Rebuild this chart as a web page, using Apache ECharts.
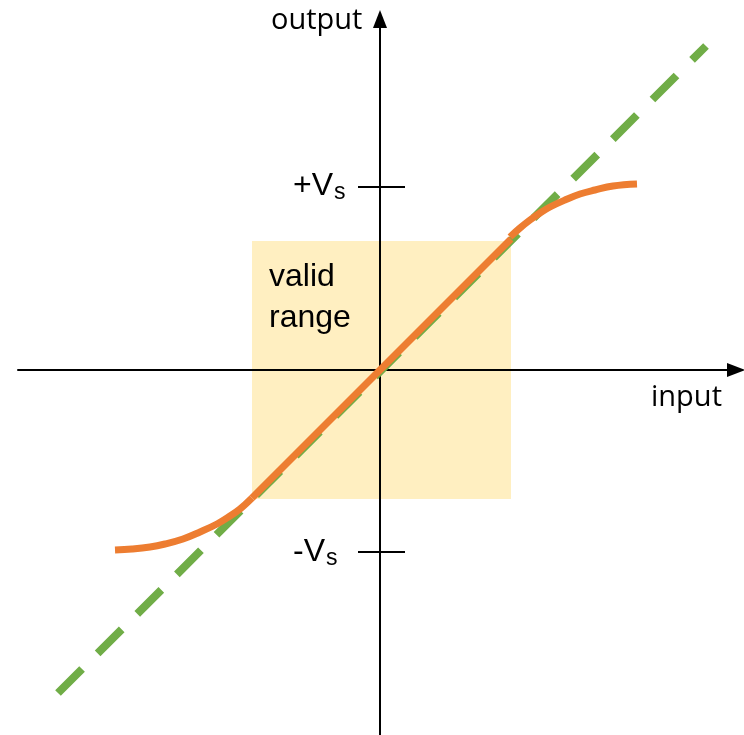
<!DOCTYPE html>
<html>
<head>
<meta charset="utf-8">
<script src="https://cdn.jsdelivr.net/npm/echarts@6/dist/echarts.min.js"></script>
<style>
  html, body { margin: 0; padding: 0; background: #fff; }
  #chart { width: 744px; height: 735px; }
</style>
</head>
<body>
<div id="chart"></div>
<script>
// data in pixel-like units, origin at axis crossing
const idealLine = [[-322, -323], [326, 324]];
const linearPart = [[-128, -128], [131, 131]];
const upperCurve = [[130, 133], [140, 142], [150, 150], [160, 157], [170, 163], [185, 170],
  [200, 176], [215, 180], [233, 184], [257, 186]];
const lowerCurve = [[-128, -128], [-140, -139], [-150, -146], [-163, -154], [-180, -162],
  [-197, -169], [-215, -174], [-230, -177], [-248, -179], [-265, -180]];
const validRange = { x: [-128, 131], y: [-129, 129] };
const vsLevels = [183, -182];
const tickHalfWidth = [-22, 25];

const chart = echarts.init(document.getElementById('chart'));

const sans = '"Liberation Sans", Arial, sans-serif';
const axisFont = '"Open Sans", sans-serif';
const orange = '#ED7D31';
const green = '#70AD47';

const tickSeries = vsLevels.map(v => ({
  type: 'line',
  z: 3,
  data: [[tickHalfWidth[0], v], [tickHalfWidth[1], v]],
  symbol: 'none',
  silent: true,
  lineStyle: { color: '#000', width: 2 }
}));

const vsRich = {
  m: { font: '32px ' + sans, fill: '#000' },
  s: { font: '23px ' + sans, fill: '#000', padding: [14, 0, 0, 1] }
};

const option = {
  animation: false,
  grid: { left: 18, right: 8, top: 19, bottom: 0 },
  xAxis: {
    type: 'value',
    min: -362,
    max: 356,
    z: 1,
    splitLine: { show: false },
    axisTick: { show: false },
    axisLabel: { show: false },
    axisLine: {
      onZero: true,
      symbol: ['none', 'triangle'],
      symbolSize: [14, 18],
      lineStyle: { color: '#000', width: 2 }
    }
  },
  yAxis: {
    type: 'value',
    min: -365,
    max: 351,
    z: 1,
    splitLine: { show: false },
    axisTick: { show: false },
    axisLabel: { show: false },
    axisLine: {
      onZero: true,
      symbol: ['none', 'triangle'],
      symbolSize: [14, 18],
      lineStyle: { color: '#000', width: 2 }
    }
  },
  series: [
    {
      type: 'line',
      z: 0,
      data: [],
      markArea: {
        silent: true,
        itemStyle: { color: '#FFEFC1' },
        data: [[
          { coord: [validRange.x[0], validRange.y[0]] },
          { coord: [validRange.x[1], validRange.y[1]] }
        ]]
      }
    },
    ...tickSeries,
    {
      type: 'line',
      z: 4,
      data: idealLine,
      symbol: 'none',
      lineStyle: { color: green, width: 8, type: [34, 22], cap: 'butt' }
    },
    {
      type: 'line',
      z: 5,
      data: linearPart,
      symbol: 'none',
      lineStyle: { color: orange, width: 7, cap: 'butt' }
    },
    {
      type: 'line',
      z: 5,
      data: upperCurve,
      symbol: 'none',
      smooth: 0.4,
      lineStyle: { color: orange, width: 7, cap: 'butt' }
    },
    {
      type: 'line',
      z: 5,
      data: lowerCurve,
      symbol: 'none',
      smooth: 0.4,
      lineStyle: { color: orange, width: 7, cap: 'butt' }
    }
  ],
  graphic: [
    { type: 'text', z: 100, left: 271, top: 6, style: { text: 'output', font: '29px ' + axisFont, fill: '#000' } },
    { type: 'text', z: 100, left: 651, top: 383, style: { text: 'input', font: '29px ' + axisFont, fill: '#000' } },
    { type: 'text', z: 100, left: 269, top: 257, style: { text: 'valid\nrange', font: '32px ' + sans, fill: '#000', lineHeight: 41 } },
    { type: 'text', z: 100, left: 293, top: 170, style: { text: '{m|+V}{s|s}', rich: vsRich } },
    { type: 'text', z: 100, left: 293, top: 536, style: { text: '{m|-V}{s|s}', rich: vsRich } }
  ]
};

chart.setOption(option);
</script>
</body>
</html>
